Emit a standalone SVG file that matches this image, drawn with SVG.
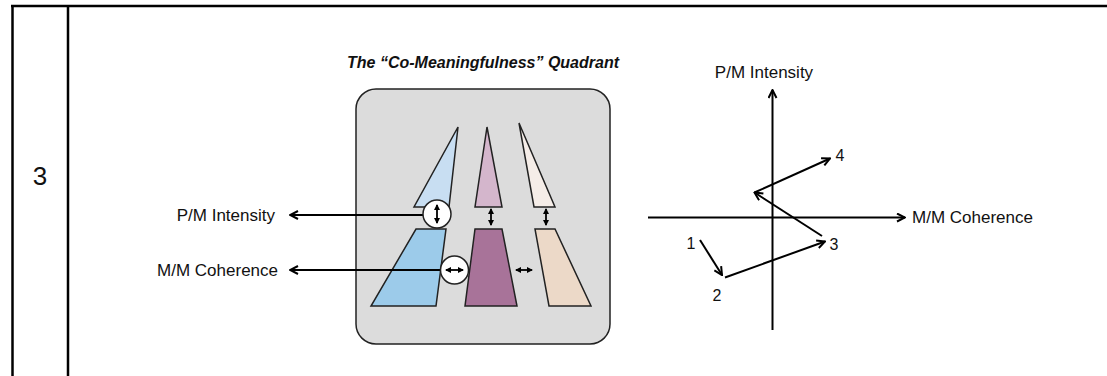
<svg xmlns="http://www.w3.org/2000/svg" width="1107" height="376" viewBox="0 0 1107 376">
<defs>
<style>
.t{font-family:"Liberation Sans",Arial,sans-serif;fill:#111;}
.lbl{font-size:17px;}
.num{font-size:16px;}
.title{font-size:16px;font-weight:bold;font-style:italic;}
.shape{stroke:#222;stroke-width:1.5;stroke-linejoin:miter;}
.conn{stroke:#000;stroke-width:2;fill:none;}
.small{stroke:#000;stroke-width:1.8;fill:none;}
.grid{stroke:#000;stroke-width:2.5;fill:none;}
</style>
<marker id="open" viewBox="0 0 10 10" refX="9" refY="5" markerWidth="10" markerHeight="10" markerUnits="userSpaceOnUse" orient="auto">
<path d="M1,1 L9,5 L1,9" fill="none" stroke="#000" stroke-width="2"/>
</marker>
<marker id="tiny" viewBox="0 0 6 6" refX="5" refY="3" markerWidth="6" markerHeight="6" markerUnits="userSpaceOnUse" orient="auto-start-reverse">
<path d="M0,0 L6,3 L0,6 z" fill="#000"/>
</marker>
</defs>
<rect width="1107" height="376" fill="#fff"/>
<g id="table">
<line class="grid" x1="11" y1="6" x2="1107" y2="6"/>
<line class="grid" x1="12.5" y1="5" x2="12.5" y2="376"/>
<line class="grid" x1="68" y1="5" x2="68" y2="376"/>
<text class="t" x="40" y="185" font-size="26" text-anchor="middle">3</text>
</g>
<g id="quadrant">
<text class="t title" x="347" y="68">The “Co-Meaningfulness” Quadrant</text>
<rect x="356" y="89" width="254" height="255" rx="20" ry="20" fill="#dcdcdc" stroke="#222" stroke-width="1.5"/>
<g id="blue">
<polygon class="shape" points="458,127 414,207 449,207" fill="#c8def2"/>
<polygon class="shape" points="416,229 446,229 436,306 371,306" fill="#9ccbea"/>
</g>
<g id="purple">
<polygon class="shape" points="487,127 475,207 502,207" fill="#d4b6cc"/>
<polygon class="shape" points="475,229 502,229 517,306 465,306" fill="#a87399"/>
</g>
<g id="beige">
<polygon class="shape" points="519,123 534,207 555,207" fill="#f5ede8"/>
<polygon class="shape" points="535,229 555,229 591,306 549,306" fill="#ecd9c8"/>
</g>
<line class="small" x1="491" y1="209" x2="491" y2="225" marker-start="url(#tiny)" marker-end="url(#tiny)"/>
<line class="small" x1="546" y1="209" x2="546" y2="225" marker-start="url(#tiny)" marker-end="url(#tiny)"/>
<line class="small" x1="516" y1="270" x2="532" y2="270" marker-start="url(#tiny)" marker-end="url(#tiny)"/>
</g>
<g id="connectors">
<line class="conn" x1="423" y1="215" x2="290" y2="215" marker-end="url(#open)"/>
<line class="conn" x1="441" y1="270" x2="290" y2="270" marker-end="url(#open)"/>
</g>
<g id="circle-intensity">
<circle cx="437" cy="214" r="14" fill="#fff" stroke="#222" stroke-width="1.5"/>
<line class="small" x1="437" y1="205" x2="437" y2="223" marker-start="url(#tiny)" marker-end="url(#tiny)"/>
</g>
<g id="circle-coherence">
<circle cx="454.5" cy="270" r="14" fill="#fff" stroke="#222" stroke-width="1.5"/>
<line class="small" x1="446" y1="270" x2="463" y2="270" marker-start="url(#tiny)" marker-end="url(#tiny)"/>
</g>
<g id="left-labels">
<text class="t lbl" x="275" y="221" text-anchor="end">P/M Intensity</text>
<text class="t lbl" x="278" y="276" text-anchor="end">M/M Coherence</text>
</g>
<g id="chart">
<line class="conn" x1="648" y1="217.5" x2="905" y2="217.5" marker-end="url(#open)"/>
<line class="conn" x1="772.5" y1="330" x2="772.5" y2="90" marker-end="url(#open)"/>
<text class="t lbl" x="764" y="78" text-anchor="middle">P/M Intensity</text>
<text class="t lbl" x="912" y="223">M/M Coherence</text>
<g id="path-arrows">
<line class="conn" x1="700" y1="240" x2="722" y2="275" marker-end="url(#open)"/>
<line class="conn" x1="725" y1="277.5" x2="825" y2="241.5" marker-end="url(#open)"/>
<line class="conn" x1="822" y1="236" x2="754.5" y2="192.5" marker-end="url(#open)"/>
<line class="conn" x1="754.5" y1="192.5" x2="830" y2="158.5" marker-end="url(#open)"/>
</g>
<text class="t num" x="691" y="249" text-anchor="middle">1</text>
<text class="t num" x="717" y="301" text-anchor="middle">2</text>
<text class="t num" x="834" y="250" text-anchor="middle">3</text>
<text class="t num" x="840" y="161" text-anchor="middle">4</text>
</g>
</svg>
